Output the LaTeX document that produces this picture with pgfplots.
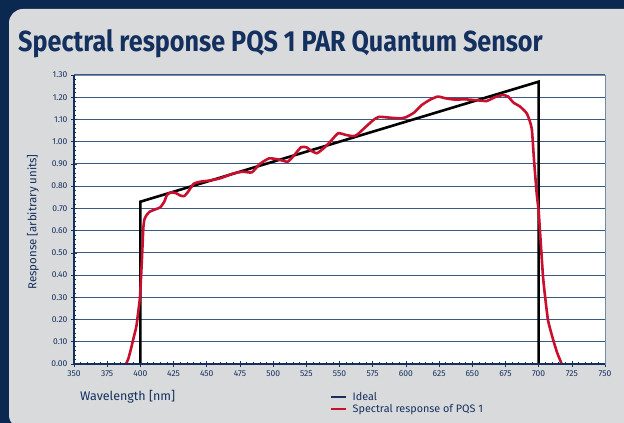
\documentclass[border=0pt]{standalone}
\usepackage{fontspec}
\setmainfont{Fira Sans}
\usepackage{pgfplots}
\pgfplotsset{compat=1.18}
\definecolor{bgnavy}{HTML}{0B2850}
\definecolor{panel}{HTML}{D9DADC}
\definecolor{navy}{HTML}{14305E}
\definecolor{gridc}{HTML}{3A5880}
\definecolor{pred}{HTML}{C8102E}
\begin{document}
\begin{tikzpicture}
\useasboundingbox (0pt,0pt) rectangle (624pt,423pt);
\fill[bgnavy] (0pt,0pt) rectangle (624pt,423pt);
\fill[panel, rounded corners=14pt] (9pt,-6pt) rectangle (640pt,414pt);
\node[anchor=base west, text=navy, inner sep=0pt] at (18pt,371pt)
  {\scalebox{0.868}[1]{\fontsize{29}{30}\selectfont\bfseries Spectral response PQS 1 PAR Quantum Sensor}};
\begin{axis}[
  at={(74pt,59pt)}, anchor=south west,
  scale only axis, width=531pt, height=289pt,
  xmin=350, xmax=750, ymin=0, ymax=1.30,
  xtick={350,375,...,750}, ytick={0,0.1,...,1.31},
  minor x tick num=4, minor y tick num=4,
  xtick pos=bottom, ytick pos=left,
  tick align=center,
  major tick length=6pt, minor tick length=3pt,
  every tick/.style={navy, line width=0.6pt},
  ymajorgrids, major grid style={gridc, line width=1pt},
  axis line style={gridc!70, line width=0.8pt},
  axis background/.style={fill=white},
  tick label style={font=\fontsize{8.5}{10}\selectfont, text=navy},
  /pgf/number format/assume math mode=true,
  yticklabel style={/pgf/number format/.cd, fixed, fixed zerofill, precision=2},
  xticklabel style={/pgf/number format/.cd, set thousands separator={}},
  clip=false,
  legend style={at={(0.482,-0.093)}, anchor=north west, draw=none, fill=none,
    font=\fontsize{10.8}{12}\selectfont, text=navy, row sep=0.5pt,
    legend cell align=left, inner sep=0pt,
    nodes={inner xsep=5pt, inner ysep=1pt}},
  legend image code/.code={\draw[#1] (0pt,0pt) -- (15pt,0pt);},
]
\addlegendimage{navy, line width=2.6pt}
\addlegendentry{Ideal}
\addlegendimage{pred, line width=2.6pt}
\addlegendentry{Spectral response of PQS 1}
\addplot[black, line width=2.6pt, line join=miter, forget plot] coordinates {
(400,0) (400,0.73) (700,1.27) (700,0)
};
\addplot[pred, line width=2.6pt, line join=round, smooth, tension=0.3, forget plot] coordinates {
(389.2,0) (391,0.025) (393,0.07) (395,0.12) (397,0.17) (398.5,0.24) (399.7,0.30)
(401,0.45) (401.6,0.53) (402.2,0.61) (403,0.65) (404.7,0.67) (407,0.685)
(411,0.695) (415,0.705) (418,0.73) (420,0.76) (423,0.772) (427,0.768)
(430,0.758) (433,0.755) (436,0.775) (440,0.81) (445,0.82) (452,0.825)
(460,0.835) (470,0.857) (477,0.865) (484,0.862) (490,0.9) (497,0.925)
(504,0.92) (511,0.91) (516,0.94) (521,0.975) (525,0.975) (529,0.958)
(533,0.948) (538,0.97) (543,1.0) (549,1.038) (555,1.03) (560,1.025)
(563,1.03) (570,1.068) (576,1.1) (580,1.112) (588,1.108) (596,1.105)
(600,1.11) (606,1.13) (612,1.165) (618,1.188) (624,1.203) (630,1.195)
(636,1.19) (646,1.19) (656,1.185) (661,1.183) (667,1.2) (673,1.21)
(677,1.203) (681,1.176) (686,1.158) (691,1.128) (693.5,1.09) (695,1.05)
(696.5,0.92) (698.5,0.77) (700,0.69) (701,0.60) (703.5,0.38) (707,0.2)
(711,0.108) (714,0.05) (717.4,0)
};
\draw[navy, line width=1.4pt] (axis cs:350,1.30) -- (axis cs:350,0) -- (axis cs:750,0);
\end{axis}
\node[anchor=center, rotate=90, text=navy, font=\fontsize{11.5}{13}\selectfont] at (33pt,201pt) {Response [arbitrary units]};
\node[anchor=base west, text=navy, font=\fontsize{12.5}{14}\selectfont, inner sep=0pt] at (80pt,22pt) {Wavelength [nm]};
\end{tikzpicture}
\end{document}
